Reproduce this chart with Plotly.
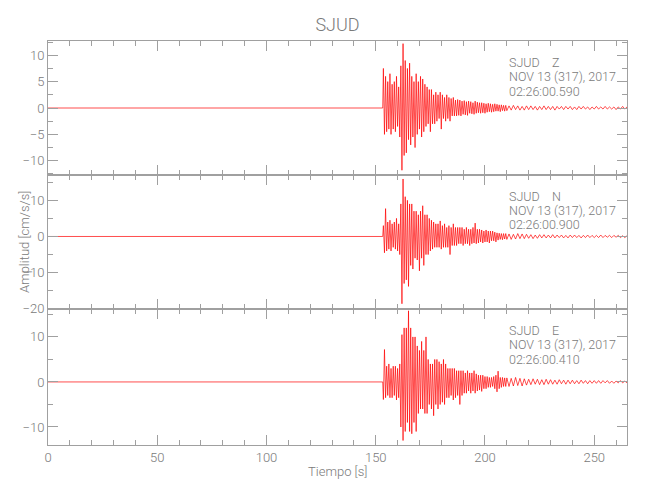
import numpy as np
import plotly.graph_objects as go

# ---------------- data ----------------
station = "SJUD"
components = ["Z", "N", "E"]
date_label = "NOV 13 (317), 2017"
start_times = ["02:26:00.590", "02:26:00.900", "02:26:00.410"]

x_ticks = [0, 50, 100, 150, 200, 250]

# quiet pre-event part (s, cm/s/s)
pre_t = [0.0, 153.2]
pre_v = [0.0, 0.0]

# strong-motion samples every 0.5 s starting at 153.5 s
strong_t0 = 153.5
strong_dt = 0.5
# coda samples every 1 s starting at 210 s
tail_t0 = 210.0
tail_dt = 1.0

z_strong = [
    7.5, -5.0, 6.0, -4.5, 5.0, -4.0, 6.5, -5.0, 4.5, -4.0,
    5.0, -4.5, 6.0, -3.5, 4.0, -5.5, 8.0, -11.8, 12.2, -9.0,
    9.0, -8.5, 7.5, -6.0, 8.5, -7.0, 6.0, -5.5, 5.0, -7.5,
    6.5, -5.0, 5.0, -4.0, 6.0, -5.5, 5.5, -4.5, 4.5, -3.5,
    4.0, -3.0, 3.5, -4.5, 3.5, -3.0, 2.5, -3.0, 3.0, -2.5,
    2.5, -2.0, 3.0, -4.0, 2.5, -2.0, 2.0, -2.5, 2.5, -2.0,
    2.0, -2.5, 1.8, -1.5, 2.0, -1.5, 1.5, -1.5, 1.6, -1.4,
    1.5, -1.5, 1.3, -1.2, 1.4, -1.3, 1.2, -1.4, 1.3, -1.0,
    1.2, -1.1, 1.0, -1.2, 1.3, -1.0, 1.1, -0.9, 1.0, -1.0,
    1.0, -0.9, 0.9, -1.0, 0.8, -0.8, 0.9, -0.7, 0.8, -0.8,
    0.7, -0.7, 0.8, -0.6, 0.7, -0.6, 0.6, -0.7, 0.6, -0.5,
    0.5, -0.6, 0.5,
]
z_tail = [
    -0.5, 0.4, -0.4, 0.5, -0.3, 0.4, -0.4, 0.3, -0.4, 0.4,
    -0.3, 0.4, -0.3, 0.3, -0.4, 0.3, -0.3, 0.4, -0.3, 0.3,
    -0.3, 0.3, -0.4, 0.3, -0.2, 0.3, -0.3, 0.3, -0.2, 0.3,
    -0.3, 0.2, -0.3, 0.3, -0.2, 0.3, -0.2, 0.2, -0.3, 0.2,
    -0.2, 0.3, -0.2, 0.2, -0.2, 0.3, -0.2, 0.2, -0.2, 0.2,
    -0.3, 0.2, -0.2, 0.3, -0.2, 0.2,
]

n_strong = [
    3.0, -4.5, 7.7, -4.0, 4.0, -3.5, 4.5, -4.0, 3.5, -3.0,
    4.0, -3.5, 5.0, -4.0, 3.5, -5.0, 9.0, -18.6, 15.9, -13.0,
    11.0, -12.0, 10.0, -13.8, 9.0, -8.0, 9.0, -9.0, 7.0, -6.0,
    7.0, -6.5, 6.0, -9.5, 7.0, -6.0, 8.5, -8.0, 6.0, -5.0,
    6.0, -5.0, 5.0, -4.0, 4.5, -3.5, 4.0, -3.0, 3.5, -3.0,
    3.5, -3.0, 4.3, -3.5, 3.0, -3.0, 3.5, -3.0, 2.5, -3.0,
    3.0, -5.0, 2.5, -2.5, 3.5, -2.5, 2.5, -2.5, 2.5, -2.0,
    2.5, -2.0, 2.5, -2.5, 2.0, -2.0, 2.5, -2.0, 2.0, -2.5,
    2.0, -2.0, 2.5, -1.8, 3.7, -2.0, 2.0, -1.8, 2.0, -1.5,
    1.8, -1.8, 1.5, -1.5, 1.8, -1.5, 1.5, -1.8, 1.5, -1.2,
    1.5, -1.2, 1.2, -1.5, 1.0, -1.0, 0.9, -0.8, 0.8, -0.9,
    0.8, -0.7, 0.8,
]
n_tail = [
    -0.8, 0.7, -0.8, 0.6, -0.7, 0.8, -0.6, 0.7, -0.6, 0.6,
    -0.5, 0.5, -0.6, 0.4, -0.5, 0.5, -0.4, 0.5, -0.4, 0.4,
    -0.4, 0.5, -0.4, 0.4, -0.3, 0.4, -0.4, 0.3, -0.4, 0.4,
    -0.3, 0.4, -0.3, 0.3, -0.4, 0.3, -0.3, 0.4, -0.3, 0.3,
    -0.3, 0.3, -0.3, 0.4, -0.3, 0.3, -0.2, 0.3, -0.3, 0.3,
    -0.2, 0.3, -0.3, 0.2, -0.3, 0.2,
]

e_strong = [
    -3.9, 7.2, -3.5, 3.5, -3.0, 4.0, -3.5, 3.0, -3.5, 3.5,
    -3.0, 3.5, -4.0, 3.0, -3.5, 4.0, -10.0, 10.5, -13.0, 12.0,
    -11.0, 12.0, -9.0, 15.8, -11.0, 12.0, -11.5, 10.0, -9.0, 10.0,
    -11.0, 8.0, -7.0, 7.0, -6.0, 9.0, -6.0, 7.0, -7.0, 10.0,
    -7.0, 5.0, -5.0, 4.0, -6.0, 4.0, -7.5, 5.0, -5.0, 5.0,
    -6.0, 4.5, -5.0, 4.0, -4.5, 5.0, -5.0, 4.0, -3.5, 3.0,
    -3.5, 3.0, -3.0, 3.0, -4.0, 3.0, -3.5, 2.5, -3.0, 2.5,
    -5.0, 2.5, -3.0, 2.5, -2.5, 2.0, -2.5, 2.5, -2.0, 2.0,
    -2.5, 2.0, -2.0, 2.5, -2.5, 1.8, -2.0, 1.5, -1.8, 1.5,
    -2.1, 1.5, -1.5, 1.2, -1.5, 1.2, -1.2, 1.0, -1.2, 1.0,
    -1.0, 1.2, -1.5, 1.5, -2.2, 2.4, -1.5, 1.0, -1.2, 1.0,
    -1.0, 0.9, -1.0,
]
e_tail = [
    0.9, -1.0, 0.8, -0.9, 1.0, -0.8, 0.8, -0.9, 0.7, -0.7,
    0.6, -0.6, 0.7, -0.5, 0.6, -0.6, 0.5, -0.6, 0.6, -0.5,
    0.5, -0.5, 0.4, -0.5, 0.5, -0.4, 0.4, -0.5, 0.4, -0.4,
    0.4, -0.4, 0.3, -0.4, 0.4, -0.3, 0.3, -0.4, 0.3, -0.3,
    0.3, -0.3, 0.3, -0.3, 0.3, -0.2, 0.3, -0.3, 0.2, -0.3,
    0.2, -0.2, 0.3, -0.2, 0.2, -0.2,
]

strong_sets = [z_strong, n_strong, e_strong]
tail_sets = [z_tail, n_tail, e_tail]

# ---------------- styling / layout ----------------
FONT = "Roboto, Lato, sans-serif"
WGT = 300
TXT = "#7a7a7a"
AX = "#a0a0a0"
W, H = 650, 500
ML, MR, MT, MB = 48, 23, 41, 55
plot_h = H - MT - MB
plot_w = W - ML - MR
panel_px = [(41, 175), (175, 309), (309, 445)]
y_ranges = [[-12.7, 12.7], [-20.05, 17.0], [-14.0, 16.2]]
y_dticks = [5, 10, 10]
y_minor = [2.5, 5, 5]


def py(px):
    return (H - MB - px) / plot_h


def px_(x):
    return (x - ML) / plot_w


fig = go.Figure()
for i in range(3):
    s = strong_sets[i]
    tl = tail_sets[i]
    t = (list(pre_t)
         + list(strong_t0 + strong_dt * np.arange(len(s)))
         + list(tail_t0 + tail_dt * np.arange(len(tl))))
    v = list(pre_v) + list(s) + list(tl)
    fig.add_trace(go.Scatter(
        x=t, y=v, mode="lines",
        line=dict(color="#ff0000", width=0.7),
        xaxis="x" if i == 0 else f"x{i+1}",
        yaxis="y" if i == 0 else f"y{i+1}",
        showlegend=False, hoverinfo="skip",
    ))

tfont = dict(family=FONT, size=13, color=TXT, weight=WGT)
common = dict(
    showline=True, linecolor=AX, linewidth=1, mirror="ticks",
    ticks="inside", ticklen=10, tickwidth=1, tickcolor=AX,
    showgrid=False, zeroline=False, automargin=False,
    tickfont=tfont,
)

layout = dict(
    width=W, height=H,
    margin=dict(l=ML, r=MR, t=MT, b=MB, autoexpand=False),
    paper_bgcolor="white", plot_bgcolor="white",
    font=dict(family=FONT, color=TXT, weight=WGT),
    title=dict(text=station, x=0.5, xref="paper", xanchor="center",
               y=1 - 25 / H, yref="container", yanchor="middle",
               font=dict(family=FONT, size=18, color=TXT, weight=WGT)),
)

for i in range(3):
    top, bot = panel_px[i]
    xa = "xaxis" if i == 0 else f"xaxis{i+1}"
    ya = "yaxis" if i == 0 else f"yaxis{i+1}"
    yname = "y" if i == 0 else f"y{i+1}"
    xname = "x" if i == 0 else f"x{i+1}"
    layout[xa] = dict(
        common, domain=[0, 1], anchor=yname, range=[0, 265],
        tickvals=x_ticks, showticklabels=(i == 2),
        minor=dict(ticks="inside", ticklen=5, dtick=10, tickcolor=AX, showgrid=False),
    )
    layout[ya] = dict(
        common, domain=[py(bot), py(top)], anchor=xname,
        range=y_ranges[i], dtick=y_dticks[i], tick0=0,
        minor=dict(ticks="inside", ticklen=5, dtick=y_minor[i], tickcolor=AX, showgrid=False),
    )

fig.update_layout(**layout)

ann = []
for i in range(3):
    top = panel_px[i][0]
    lines = [station + "\u00a0\u00a0\u00a0\u00a0" + components[i], date_label, start_times[i]]
    for k, txt in enumerate(lines):
        ann.append(dict(
            text=txt, xref="paper", yref="paper",
            x=px_(507), y=py(top + 21 + 14.5 * k),
            xanchor="left", yanchor="middle", showarrow=False,
            font=dict(family=FONT, size=12.5, color=TXT, weight=WGT),
        ))
ann.append(dict(text="Amplitud [cm/s/s]", textangle=-90, xref="paper", yref="paper",
                x=px_(24), y=py(242), xanchor="center", yanchor="middle",
                showarrow=False, font=dict(family=FONT, size=13, color=TXT, weight=WGT)))
ann.append(dict(text="Tiempo [s]", xref="paper", yref="paper",
                x=px_(337), y=py(471), xanchor="center", yanchor="middle",
                showarrow=False, font=dict(family=FONT, size=13, color=TXT, weight=WGT)))
fig.update_layout(annotations=ann)

fig.write_html("out.html", config={"displayModeBar": False},
               post_script="document.body.style.margin='0px';")
